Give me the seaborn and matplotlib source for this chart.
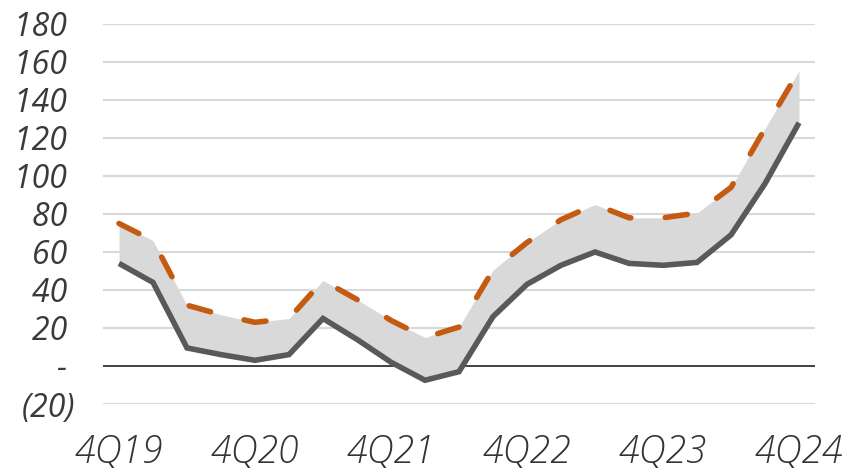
import matplotlib
matplotlib.use("Agg")
import matplotlib.pyplot as plt
import seaborn as sns
import pandas as pd
import numpy as np

# Quarterly series, 4Q19 through 4Q24
quarters = ["4Q19", "1Q20", "2Q20", "3Q20", "4Q20", "1Q21", "2Q21", "3Q21",
            "4Q21", "1Q22", "2Q22", "3Q22", "4Q22", "1Q23", "2Q23", "3Q23",
            "4Q23", "1Q24", "2Q24", "3Q24", "4Q24"]
lower = [54, 44, 9.5, 6, 3, 6, 25, 14, 2, -7.5, -3, 26, 43, 53, 60, 54,
         53, 54.5, 69, 96, 128]
upper = [75, 66, 32, 27, 23, 25, 45, 35, 24, 15, 20.5, 50.5, 65, 77, 85, 78,
         78, 80.5, 94, 125, 155.5]
tick_labels = ["4Q19", "4Q20", "4Q21", "4Q22", "4Q23", "4Q24"]
y_ticks = [-20, 0, 20, 40, 60, 80, 100, 120, 140, 160, 180]

df = pd.DataFrame({"q": np.arange(len(quarters)), "lower": lower, "upper": upper})

sns.set_theme(style="white")
plt.rcParams["font.family"] = ["Open Sans", "DejaVu Sans"]

fig = plt.figure(figsize=(8.51, 4.68), dpi=100)
ax = fig.add_axes([103 / 851, (468 - 404) / 468, (815 - 103) / 851, (404 - 24) / 468])

# gridlines and zero line
for v in y_ticks:
    if v == 0:
        continue
    ax.axhline(v, color="#d9d9d9", lw=1.5, zorder=0)
ax.axhline(0, color="#3a4449", lw=1.4, zorder=1)

# shaded band between the two series
ax.fill_between(df["q"], df["lower"], df["upper"], color="#d9d9d9", lw=0, zorder=2)

sns.lineplot(data=df, x="q", y="lower", ax=ax, color="#595959", lw=4.0,
             solid_capstyle="butt", solid_joinstyle="miter", zorder=3)
sns.lineplot(data=df, x="q", y="upper", ax=ax, color="#c55a11", lw=4.0,
             linestyle=(0, (4, 6.2)), dash_capstyle="round", zorder=4)

ax.set_xlim(-0.47, len(quarters) - 1 + 0.47)
ax.set_ylim(-20, 180)

ax.set_xticks(np.arange(0, len(quarters), 4))
ax.set_xticklabels(tick_labels)


def fmt(v):
    # positive values and zero leave room for the closing parenthesis
    if v < 0:
        return f"({abs(v)})"
    if v == 0:
        return "- "
    return f"{v} "


ax.set_yticks(y_ticks)
ax.set_yticklabels([fmt(v) for v in y_ticks])

for lab in ax.get_yticklabels():
    lab.set_fontsize(23)
    lab.set_fontstyle("italic")
    lab.set_color("#3a3a3a")
for lab in ax.get_xticklabels():
    lab.set_fontsize(27)
    lab.set_fontstyle("italic")
    lab.set_fontweight("light")
    lab.set_color("#333333")

ax.tick_params(axis="y", length=0, pad=20)
ax.tick_params(axis="x", length=0, pad=21)
ax.set_xlabel("")
ax.set_ylabel("")
for s in ax.spines.values():
    s.set_visible(False)

fig.savefig("out.png", dpi=100)
